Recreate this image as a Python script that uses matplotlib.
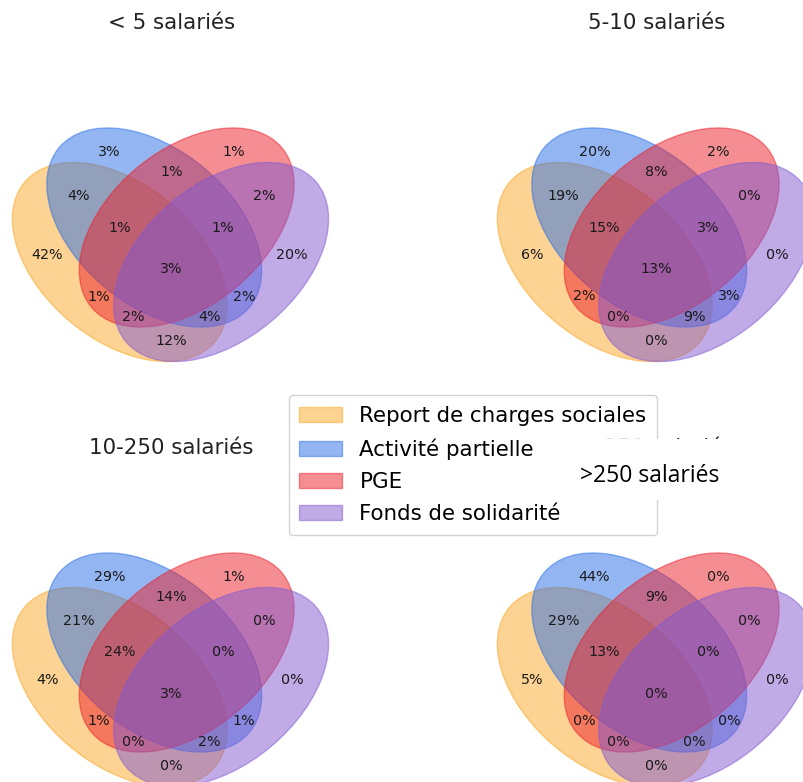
import matplotlib.pyplot as plt
from matplotlib import patches

# ensembles (ordre pyvenn : A, B, C, D)
names = ["Report de charges sociales", "Activité partielle", "PGE", "Fonds de solidarité"]
colors = [(0.98, 0.62, 0.05, 0.45),
          (0.16, 0.43, 0.90, 0.50),
          (0.92, 0.12, 0.16, 0.50),
          (0.51, 0.35, 0.82, 0.50)]

titles = ["< 5 salariés", "5-10 salariés", "10-250 salariés", "> 250 salariés"]

# régions de l'intersection
regions = ["1000", "0100", "0010", "0001", "1100", "0110", "0011", "1010",
           "0101", "1001", "1110", "1101", "1011", "0111", "1111"]
moins_5 = [42, 3, 1, 20, 4, 1, 2, 1, 2, 12, 1, 4, 2, 1, 3]
de_5_10 = [6, 20, 2, 0, 19, 8, 0, 2, 3, 0, 15, 9, 0, 3, 13]
de_10_250 = [4, 29, 1, 0, 21, 14, 0, 1, 1, 0, 24, 2, 0, 0, 3]
plus_250 = [5, 44, 0, 0, 29, 9, 0, 0, 0, 0, 13, 0, 0, 0, 0]
panels = [moins_5, de_5_10, de_10_250, plus_250]

# géométrie du diagramme à 4 ellipses (comme pyvenn.venn4)
ellipses = [(0.350, 0.400, 140.0), (0.450, 0.500, 140.0),
            (0.544, 0.500, 40.0), (0.644, 0.400, 40.0)]
label_pos = {
    "0001": (0.85, 0.42), "0010": (0.68, 0.72), "0011": (0.77, 0.59),
    "0100": (0.32, 0.72), "0101": (0.71, 0.30), "0110": (0.50, 0.66),
    "0111": (0.65, 0.50), "1000": (0.14, 0.42), "1001": (0.50, 0.17),
    "1010": (0.29, 0.30), "1011": (0.39, 0.24), "1100": (0.23, 0.59),
    "1101": (0.61, 0.24), "1110": (0.35, 0.50), "1111": (0.50, 0.38),
}

W, H = 804, 782
fig = plt.figure(figsize=(W / 100, H / 100), dpi=100)

# positions des axes en pixels (gauche, haut)
boxes = [(-1, 55), (484, 55), (-1, 480), (484, 480)]
size = 345

handles = []
for k, (vals, title, (x0, y0)) in enumerate(zip(panels, titles, boxes)):
    ax = fig.add_axes([x0 / W, 1 - (y0 + size) / H, size / W, size / H])
    ax.set_xlim(0, 1)
    ax.set_ylim(0, 1)
    ax.set_aspect("equal")
    ax.set_axis_off()
    for (cx, cy, ang), col in zip(ellipses, colors):
        e = patches.Ellipse((cx, cy), 0.72, 0.45, angle=ang, color=col)
        ax.add_patch(e)
        if k == 0:
            handles.append(patches.Patch(facecolor=col, edgecolor=col))
    for reg, v in zip(regions, vals):
        x, y = label_pos[reg]
        ax.text(x, y, f"{v}%", ha="center", va="center", fontsize=10.3,
                color="#1a1a1a")
    ax.set_title(title, fontsize=15.4, pad=19, color="#222222")

leg = fig.legend(handles, names, loc="center", bbox_to_anchor=(473 / W, 1 - 465 / H),
                 fontsize=15.4, framealpha=0.85, borderpad=0.5, labelspacing=0.58)

# cache blanc collé par-dessus le dernier titre
fig.patches.append(patches.Rectangle((566 / W, 1 - 500 / H), 200 / W, 61 / H,
                                     transform=fig.transFigure, facecolor="white",
                                     edgecolor="none", zorder=10))
fig.text(650 / W, 1 - 476 / H, ">250 salariés", ha="center", va="center",
         fontsize=16.5, family=["Open Sans", "DejaVu Sans"], color="black", zorder=11)

fig.savefig("out.png", dpi=100)
